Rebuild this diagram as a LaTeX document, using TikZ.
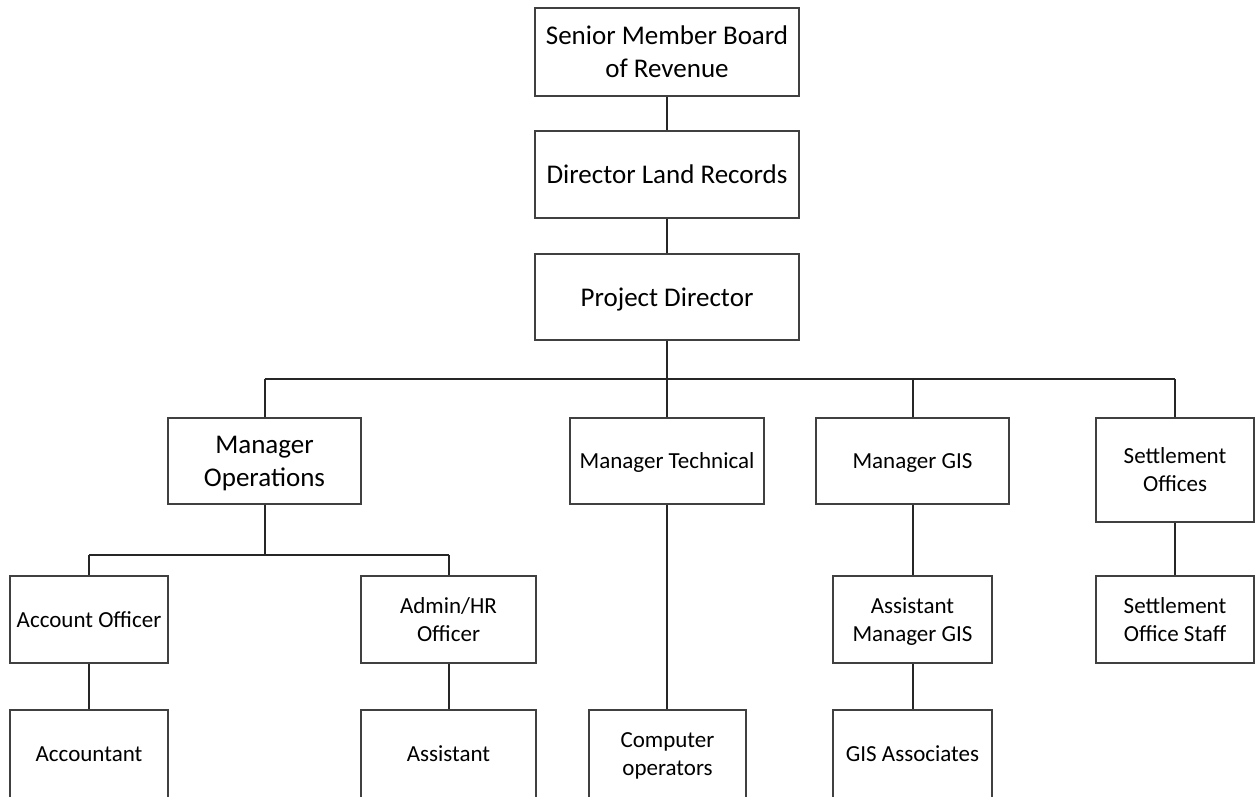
\documentclass[tikz,border=0pt]{standalone}
\usepackage{fontspec}
\setmainfont{Carlito}

\begin{document}
\begin{tikzpicture}[x=1pt, y=-1pt,
    post/.style={draw=black!75, line width=1.3pt, fill=white, inner sep=2pt, align=center, text depth=0pt},
    big/.style={font=\fontsize{27}{33}\selectfont},
    small/.style={font=\fontsize{23}{28}\selectfont},
    link/.style={draw=black!85, line width=2pt}]
		\useasboundingbox (0,0) rectangle (1256,796);
		\clip (0,0) rectangle (1256,796);

		% top of the chain
		\node[post, big, minimum width=264, minimum height=88] (smbr) at (667,52) {Senior Member Board\\of Revenue};
		\node[post, big, minimum width=264, minimum height=87] (dlr) at (667,174.5) {Director Land Records};
		\node[post, big, minimum width=264, minimum height=86] (pd) at (667,297) {Project Director};

		% managers
		\node[post, big, minimum width=193, minimum height=86] (mops) at (264.5,461) {Manager\\Operations};
		\node[post, small, minimum width=194, minimum height=86] (mtech) at (667,461) {Manager Technical};
		\node[post, small, minimum width=193, minimum height=86] (mgis) at (912.5,461) {Manager GIS};
		\node[post, small, minimum width=158, minimum height=104] (setoff) at (1175,470) {Settlement\\Offices};

		% officers
		\node[post, small, minimum width=158, minimum height=87] (acco) at (89,619.5) {Account Officer};
		\node[post, small, minimum width=175, minimum height=87] (admin) at (448.5,619.5) {Admin/HR\\Officer};
		\node[post, small, minimum width=159, minimum height=87] (amgis) at (912.5,619.5) {Assistant\\Manager GIS};
		\node[post, small, minimum width=158, minimum height=87] (sos) at (1175,619.5) {Settlement\\Office Staff};

		% staff (boxes run past the bottom edge)
		\node[post, small, minimum width=158, minimum height=88] (acct) at (89,754) {Accountant};
		\node[post, small, minimum width=175, minimum height=88] (asst) at (448.5,754) {Assistant};
		\node[post, small, minimum width=157, minimum height=88] (compop) at (667.5,754) {Computer\\operators};
		\node[post, small, minimum width=159, minimum height=88] (gisa) at (912.5,754) {GIS Associates};

		\coordinate (bus) at (667,379);
		\coordinate (opsbus) at (264.5,555);

		\draw[link] (smbr) -- (dlr);
		\draw[link] (dlr) -- (pd);
		\draw[link, line width=2.8pt] (pd.south) -- (bus);
		\draw[link, line width=2.4pt] (mops.north |- bus) -- (setoff.north |- bus);
		\draw[link] (mops.north) -- (mops.north |- bus);
		\draw[link] (mtech.north) -- (bus);
		\draw[link] (mgis.north) -- (mgis.north |- bus);
		\draw[link] (setoff.north) -- (setoff.north |- bus);

		\draw[link] (mops.south) -- (opsbus);
		\draw[link] (acco.north |- opsbus) -- (admin.north |- opsbus);
		\draw[link] (acco.north) -- (acco.north |- opsbus);
		\draw[link] (admin.north) -- (admin.north |- opsbus);

		\draw[link] (acco) -- (acct);
		\draw[link] (admin) -- (asst);
		\draw[link] (mtech.south) -- (mtech.south |- compop.north);
		\draw[link] (mgis) -- (amgis);
		\draw[link] (amgis) -- (gisa);
		\draw[link] (setoff) -- (sos);
\end{tikzpicture}
\end{document}
